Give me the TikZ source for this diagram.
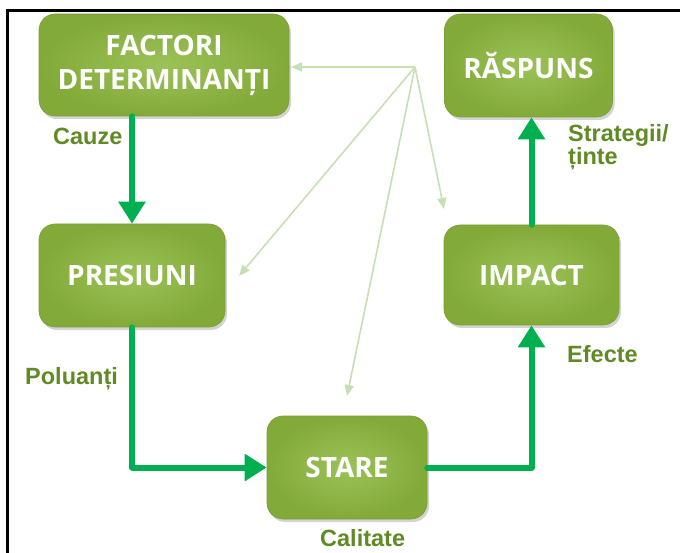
\documentclass[tikz,border=0pt]{standalone}
\usepackage{fontspec}
\setmainfont{Liberation Sans}
\newfontfamily\boxfont{Open Sans}
\usetikzlibrary{arrows.meta,shadows,calc}
\definecolor{boxmid}{HTML}{9CC258}
\definecolor{boxout}{HTML}{82AA38}
\definecolor{boxedge}{HTML}{7A9F32}
\definecolor{flow}{HTML}{00B050}
\definecolor{thin}{HTML}{C6DFB3}
\definecolor{lab}{HTML}{5F8A24}
\tikzset{
  stagebox/.style={rounded corners=16pt, draw=boxedge, line width=0.6pt,
    inner color=boxmid, outer color=boxout,
    drop shadow={shadow xshift=2pt, shadow yshift=-3pt, opacity=0.35},
    text=white, font=\boxfont\bfseries\fontsize{28}{37}\selectfont,
    align=center, inner sep=0pt},
  flowarrow/.style={draw=flow, line width=6pt, line join=round, line cap=round,
    -{Triangle[length=22pt,width=26pt]}},
  thinarrow/.style={draw=thin, line width=1.6pt, -{Triangle[length=11pt,width=9pt]}},
  lbl/.style={text=lab, font=\bfseries\fontsize{23.5}{20}\selectfont, inner sep=0pt, align=left}
}
\begin{document}
\begin{tikzpicture}[x=1pt,y=-1pt]
\useasboundingbox (0,0) rectangle (680,553);
% frame
\draw[line width=2.6pt] (7.5,560) -- (7.5,10.5) -- (690,10.5);
% boxes
\node[stagebox, minimum width=250pt, minimum height=102pt] (fact) at (164,65) {FACTORI\\[-3pt]DETERMINANȚI};
\node[stagebox, minimum width=168pt, minimum height=103pt] (rasp) at (528.5,65.5) {RĂSPUNS};
\node[stagebox, minimum width=186pt, minimum height=103pt] (pres) at (132,275.5) {PRESIUNI};
\node[stagebox, minimum width=175pt, minimum height=100pt] (imp) at (531.5,275) {IMPACT};
\node[stagebox, minimum width=160pt, minimum height=103pt] (stare) at (347,467.5) {STARE};
% main flow
\draw[flowarrow] (fact.south -| pres.north) -- (pres.north);
\draw[flowarrow] (pres.south) |- (stare.west);
\draw[flowarrow] (stare.east) -| (imp.south);
\draw[flowarrow] (imp.north) -- (imp.north |- rasp.south);
% thin arrows
\coordinate (src) at (415,67);
\coordinate (t1) at (291,67);
\coordinate (t2) at (239,276);
\coordinate (t3) at (347,396);
\coordinate (t4) at (444,209);
\draw[thinarrow] (src) -- (t1);
\draw[thinarrow] (src) -- (t2);
\draw[thinarrow] (src) -- (t3);
\draw[thinarrow] (src) -- (t4);
% labels
\node[lbl, anchor=base west] (l1) at (53,145) {Cauze};
\node[lbl, anchor=base west] (l2) at (568,165) {Strategii/\\ținte};
\node[lbl, anchor=base west] (l4) at (25,384) {Poluanți};
\node[lbl, anchor=base west] (l5) at (567,362) {Efecte};
\node[lbl, anchor=base west] (l6) at (320,546) {Calitate};
\end{tikzpicture}
\end{document}
